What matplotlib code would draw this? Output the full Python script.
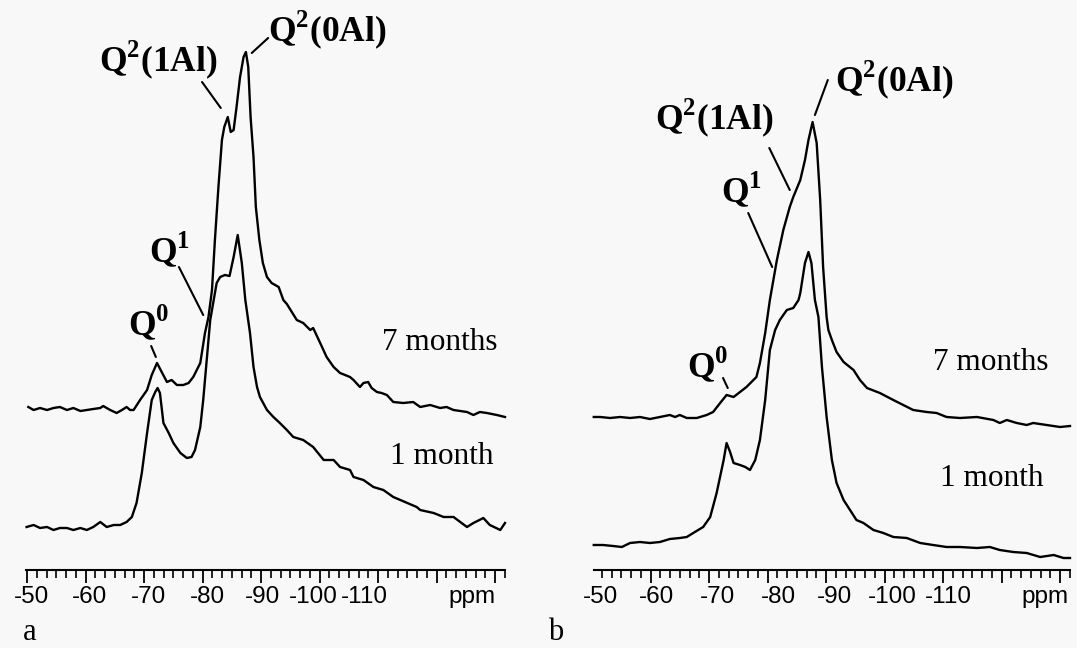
import matplotlib
matplotlib.use("Agg")
import matplotlib.pyplot as plt
from matplotlib.ticker import MultipleLocator

# 29Si NMR traces (ppm, intensity in arbitrary units)
a7_ppm = [-50.2, -51.1, -52.2, -53.4, -54.5, -55.6, -56.8, -57.9, -59.1, -60.2, -61.3, -62.5, -63.0,
          -64.2, -65.3, -66.2, -67.0, -67.6, -68.2, -69.3, -70.5, -71.3, -72.2, -73.0, -73.9, -74.7,
          -75.6, -76.7, -77.6, -78.4, -79.6, -80.4, -81.0, -81.6, -82.1, -82.7, -83.3, -83.7, -84.3,
          -84.8, -85.3, -85.8, -86.4, -87.0, -87.4, -87.8, -88.2, -88.7, -89.1, -89.7, -90.3, -91.0,
          -91.8, -93.0, -93.8, -94.4, -96.1, -97.2, -98.4, -98.9, -100.1, -101.2, -102.4, -103.5,
          -105.2, -105.8, -106.9, -107.5, -108.3, -108.9, -109.8, -110.6, -111.5, -112.6, -114.3,
          -116.0, -117.2, -118.9, -120.6, -121.7, -122.9, -125.2, -126.3, -127.4, -128.6, -130.3, -131.7]
a7_int = [163, 160, 162, 160, 162, 163, 160, 162, 159, 160, 161, 162, 164,
          160, 157, 160, 163, 160, 160, 170, 180, 195, 207, 198, 188, 190,
          185, 185, 187, 193, 207, 237, 253, 280, 330, 383, 430, 443, 453,
          438, 440, 463, 493, 513, 518, 503, 453, 413, 363, 330, 307, 293,
          287, 283, 270, 266, 250, 247, 240, 242, 227, 213, 203, 197,
          193, 190, 183, 187, 188, 182, 178, 177, 175, 168, 167,
          168, 163, 165, 162, 163, 160, 158, 155, 158, 157, 155, 153]

a1_ppm = [-49.9, -51.1, -52.2, -53.4, -54.5, -55.6, -56.8, -57.9, -59.1, -60.2, -61.3, -62.5, -63.6,
          -64.8, -65.9, -67.0, -67.9, -68.7, -69.6, -70.5, -71.3, -71.9, -72.3, -72.7, -73.3, -74.2,
          -75.0, -76.2, -77.3, -78.1, -78.7, -79.6, -80.1, -80.7, -81.3, -82.4, -83.0, -83.8, -84.6,
          -85.3, -86.0, -86.7, -87.3, -88.1, -88.7, -89.3, -89.8, -91.0, -92.1, -93.2, -94.4, -95.5,
          -97.2, -98.9, -100.7, -102.4, -103.5, -105.2, -105.8, -107.5, -109.2, -110.9, -112.6,
          -113.8, -116.6, -117.2, -119.5, -121.2, -122.9, -125.2, -126.3, -128.0, -129.1, -130.9, -131.7]
a1_int = [43, 45, 42, 43, 40, 42, 42, 40, 42, 40, 43, 48, 43,
          45, 45, 48, 53, 67, 97, 137, 170, 178, 182, 177, 147, 137,
          127, 117, 112, 113, 120, 143, 170, 210, 250, 287, 293, 295, 294,
          313, 335, 307, 270, 237, 203, 183, 173, 160, 153, 147, 140, 133,
          130, 123, 110, 110, 103, 100, 93, 90, 83, 80, 73,
          70, 63, 60, 57, 53, 53, 43, 47, 52, 45, 40, 47]

b7_ppm = [-50.3, -51.4, -53.1, -54.8, -56.5, -58.2, -59.9, -61.6, -63.3, -64.2, -65.0, -66.2, -67.9,
          -69.6, -70.7, -71.9, -73.0, -74.2, -75.3, -76.4, -78.1, -78.7, -79.6, -80.4, -81.6, -82.7,
          -83.8, -84.4, -85.6, -86.4, -87.0, -87.7, -88.4, -89.0, -89.5, -90.1, -90.4, -91.0, -91.8,
          -93.0, -94.7, -95.8, -97.0, -99.2, -101.5, -103.2, -104.9, -107.2, -108.9, -110.6, -112.9,
          -115.8, -118.6, -119.7, -120.9, -122.6, -124.3, -125.4, -127.7, -130.0, -131.7]
b7_int = [153, 153, 152, 153, 152, 153, 151, 153, 155, 153, 155, 152, 152,
          155, 158, 167, 175, 173, 178, 183, 193, 207, 237, 270, 310, 340,
          363, 373, 390, 410, 430, 448, 427, 370, 303, 253, 240, 230, 218,
          208, 200, 190, 182, 177, 170, 165, 160, 158, 157, 153, 152,
          153, 150, 147, 150, 147, 145, 147, 145, 143, 144]

b1_ppm = [-50.3, -51.9, -53.6, -55.1, -56.5, -58.2, -59.9, -61.6, -63.3, -65.0, -66.2, -67.3, -69.0,
          -70.2, -71.3, -72.5, -73.0, -73.6, -74.2, -75.3, -76.2, -77.0, -77.9, -78.7, -79.6, -80.4,
          -81.3, -82.1, -83.3, -84.4, -85.3, -85.6, -86.4, -87.0, -87.5, -88.1, -88.7, -89.3, -90.1,
          -91.0, -91.8, -93.0, -94.1, -95.2, -96.4, -98.1, -99.8, -101.5, -103.8, -106.1, -108.3,
          -110.6, -112.9, -115.8, -118.0, -119.7, -122.0, -124.3, -126.6, -128.9, -130.6, -131.7]
b1_int = [25, 25, 24, 23, 27, 28, 27, 28, 31, 32, 33, 37, 43,
          53, 77, 110, 127, 118, 107, 105, 103, 100, 110, 130, 170, 220,
          240, 250, 260, 262, 270, 277, 307, 318, 307, 270, 253, 203, 153,
          110, 87, 70, 60, 50, 47, 40, 37, 33, 32, 27, 25,
          23, 23, 22, 23, 20, 18, 17, 13, 15, 12, 12]

tick_text = ['-50', '-60', '-70', '-80', '-90', '-100', '-110', 'ppm']
tick_text_pos_a = [-50.8, -60.6, -70.7, -80.9, -90.2, -98.9, -107.6, -126.1]
tick_text_pos_b = [-51.4, -61.1, -71.5, -81.8, -91.5, -101.4, -110.9, -127.4]

# peak labels: text, text position, leader line (start, end)
labels_a = [
    ('Q$^{\\mathbf{2}}$(0Al)', (-101.3, 540), (-91.2, 532), (-88.4, 517)),
    ('Q$^{\\mathbf{2}}$(1Al)', (-72.4, 510), (-79.9, 488), (-83.1, 462)),
    ('Q$^{\\mathbf{1}}$', (-74.4, 320), (-75.95, 303), (-80.1, 255)),
    ('Q$^{\\mathbf{0}}$', (-70.7, 247), (-71.2, 224), (-72.0, 213)),
]
labels_b = [
    ('Q$^{\\mathbf{2}}$(0Al)', (-101.6, 490), (-90.3, 490), (-88.1, 455)),
    ('Q$^{\\mathbf{2}}$(1Al)', (-70.9, 452), (-80.3, 422), (-83.8, 380)),
    ('Q$^{\\mathbf{1}}$', (-75.6, 380), (-76.7, 357), (-80.8, 303)),
    ('Q$^{\\mathbf{0}}$', (-69.8, 205), (-72.4, 192), (-73.2, 182)),
]

plt.rcParams['mathtext.fontset'] = 'custom'
plt.rcParams['mathtext.rm'] = 'Liberation Serif'
plt.rcParams['mathtext.bf'] = 'Liberation Serif:bold'

bg = '#f8f8f8'
fig = plt.figure(figsize=(10.77, 6.48), dpi=100, facecolor=bg)

W, H = 1077, 648
ax_a = fig.add_axes([26 / W, (H - 570) / H, 479 / W, 570 / H])
ax_b = fig.add_axes([594 / W, (H - 570) / H, 476 / W, 570 / H])


def draw_panel(ax, xlim, s7, s1, tick_pos, labels):
    ax.set_facecolor('none')
    ax.plot(s7[0], s7[1], color='black', lw=1.7, clip_on=False)
    ax.plot(s1[0], s1[1], color='black', lw=1.7, clip_on=False)
    ax.set_xlim(*xlim)
    ax.set_ylim(0, 570)
    for side in ['left', 'right', 'top']:
        ax.spines[side].set_visible(False)
    ax.spines['bottom'].set_linewidth(1.5)
    ax.set_yticks([])
    ax.xaxis.set_major_locator(MultipleLocator(10))
    ax.xaxis.set_minor_locator(MultipleLocator(10 / 6))
    ax.tick_params(axis='x', which='major', direction='out', length=9, width=1.3, labelbottom=False)
    ax.tick_params(axis='x', which='minor', direction='out', length=5.5, width=1.2)
    for t, p in zip(tick_text, tick_pos):
        ax.text(p, -27, t, ha='center', va='center', fontsize=17.5,
                family='Liberation Sans', clip_on=False)
    for text, tpos, l0, l1 in labels:
        ax.text(tpos[0], tpos[1], text, ha='center', va='center', fontsize=25.5,
                family='Liberation Serif', fontweight='bold')
        ax.annotate('', xy=l1, xytext=l0,
                    arrowprops=dict(arrowstyle='-', lw=1.5, color='black',
                                    shrinkA=0, shrinkB=0))


draw_panel(ax_a, (-49.8, -131.7), (a7_ppm, a7_int), (a1_ppm, a1_int), tick_text_pos_a, labels_a)
draw_panel(ax_b, (-50.34, -131.7), (b7_ppm, b7_int), (b1_ppm, b1_int), tick_text_pos_b, labels_b)

ax_a.text(-120.6, 227, '7 months', ha='center', va='center', fontsize=22.5, family='Liberation Serif')
ax_a.text(-120.9, 113, '1 month', ha='center', va='center', fontsize=22.5, family='Liberation Serif')
ax_b.text(-118.2, 208, '7 months', ha='center', va='center', fontsize=22.5, family='Liberation Serif')
ax_b.text(-118.4, 92, '1 month', ha='center', va='center', fontsize=22.5, family='Liberation Serif')

fig.text(30 / W, 1 - 633 / H, 'a', ha='center', va='center', fontsize=22, family='Liberation Serif')
fig.text(556 / W, 1 - 633 / H, 'b', ha='center', va='center', fontsize=22, family='Liberation Serif')

fig.savefig('out.png', dpi=100, facecolor=bg)
